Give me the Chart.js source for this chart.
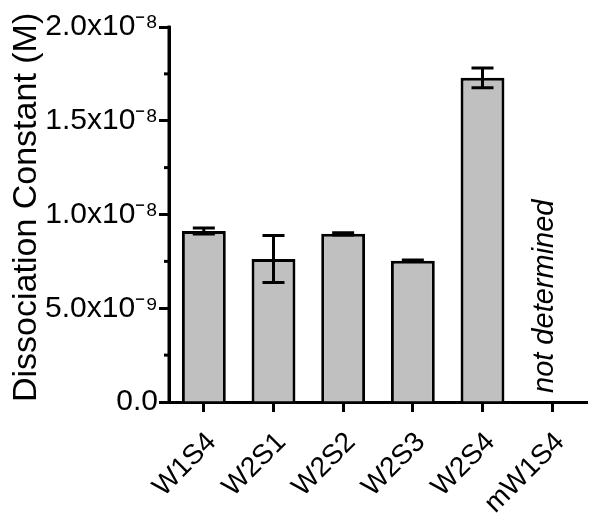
<!DOCTYPE html>
<html><head><meta charset="utf-8">
<script src="https://cdn.jsdelivr.net/npm/chart.js@4"></script>
<style>html,body{margin:0;padding:0;background:#fff}</style>
</head><body>
<canvas id="c" width="602" height="521"></canvas>
<script>
const categories = ['W1S4', 'W2S1', 'W2S2', 'W2S3', 'W2S4', 'mW1S4'];
const kdValues = [9.12e-9, 7.63e-9, 8.97e-9, 7.53e-9, 1.729e-8, null];
const kdErrors = [0.16e-9, 1.25e-9, 0.06e-9, 0.04e-9, 0.53e-9, null];
const yTickValues = [0, 5e-9, 1e-8, 1.5e-8, 2e-8];
const yTickLabels = ['0.0', '5.0x10⁻⁹', '1.0x10⁻⁸', '1.5x10⁻⁸', '2.0x10⁻⁸'];
const yMinorTicks = [2.5e-9, 7.5e-9, 1.25e-8, 1.75e-8];
const yAxisTitle = 'Dissociation Constant (M)';
const annotationText = 'not determined';
const annotationIndex = 5;

const FONT = "'Liberation Sans', Arial, sans-serif";

const extras = {
  id: 'extras',
  afterDatasetsDraw(chart) {
    const ctx = chart.ctx, xs = chart.scales.x, ys = chart.scales.y;
    ctx.save();
    ctx.strokeStyle = '#000';
    ctx.lineWidth = 3;
    ctx.lineCap = 'butt';
    // y axis line
    ctx.beginPath();
    ctx.moveTo(ys.right, ys.top - 1.5);
    ctx.lineTo(ys.right, ys.bottom + 1.5);
    ctx.stroke();
    kdValues.forEach((v, i) => {
      if (v == null || kdErrors[i] == null) return;
      const cx = xs.getPixelForValue(i);
      const yt = ys.getPixelForValue(v + kdErrors[i]);
      const yb = ys.getPixelForValue(v - kdErrors[i]);
      const hw = 11;
      ctx.beginPath();
      ctx.moveTo(cx, yt); ctx.lineTo(cx, yb);
      ctx.moveTo(cx - hw, yt); ctx.lineTo(cx + hw, yt);
      ctx.moveTo(cx - hw, yb); ctx.lineTo(cx + hw, yb);
      ctx.stroke();
    });
    yMinorTicks.forEach(v => {
      const py = ys.getPixelForValue(v);
      ctx.beginPath();
      ctx.moveTo(ys.right - 5, py); ctx.lineTo(ys.right, py);
      ctx.stroke();
    });
    const ax = xs.getPixelForValue(annotationIndex) + 1;
    const ay = ys.getPixelForValue(0) - 9;
    ctx.translate(ax, ay);
    ctx.rotate(-Math.PI / 2);
    ctx.fillStyle = '#000';
    ctx.font = 'italic 29px ' + FONT;
    ctx.textAlign = 'left';
    ctx.textBaseline = 'alphabetic';
    ctx.fillText(annotationText, 0, 0);
    ctx.restore();
  }
};

new Chart(document.getElementById('c'), {
  type: 'bar',
  data: {
    labels: categories,
    datasets: [{
      data: kdValues,
      backgroundColor: '#c0c0c0',
      borderColor: '#000',
      borderWidth: 3,
      categoryPercentage: 1,
      barPercentage: 0.63
    }]
  },
  options: {
    responsive: false,
    devicePixelRatio: 1,
    animation: false,
    layout: { padding: { left: 0, top: 27, right: 15, bottom: 0 } },
    plugins: { legend: { display: false }, tooltip: { enabled: false } },
    scales: {
      x: {
        offset: true,
        afterFit: s => { s.height = 119; },
        border: { color: '#000', width: 3 },
        grid: { offset: false, drawOnChartArea: false, tickLength: 10, tickWidth: 3, tickColor: '#000' },
        ticks: { color: '#000', font: { family: FONT, size: 28 }, maxRotation: 45, minRotation: 45, padding: 14, labelOffset: 8, autoSkip: false }
      },
      y: {
        min: 0, max: 2e-8,
        afterFit: s => { s.width = 169; },
        afterBuildTicks: s => { s.ticks = yTickValues.map(v => ({ value: v })); },
        border: { color: '#000', width: 3 },
        grid: { drawOnChartArea: false, tickLength: 10, tickWidth: 3, tickColor: '#000' },
        ticks: {
          color: '#000', padding: 1,
          font: { family: FONT, size: 30 },
          callback: (v, i) => yTickLabels[yTickValues.indexOf(v)] ?? yTickLabels[i]
        },
        title: {
          display: true, text: yAxisTitle, color: '#000', align: 'start',
          font: { family: FONT, size: 34 },
          padding: { top: 6, bottom: 0 }
        }
      }
    }
  },
  plugins: [extras]
});
</script>
</body></html>
